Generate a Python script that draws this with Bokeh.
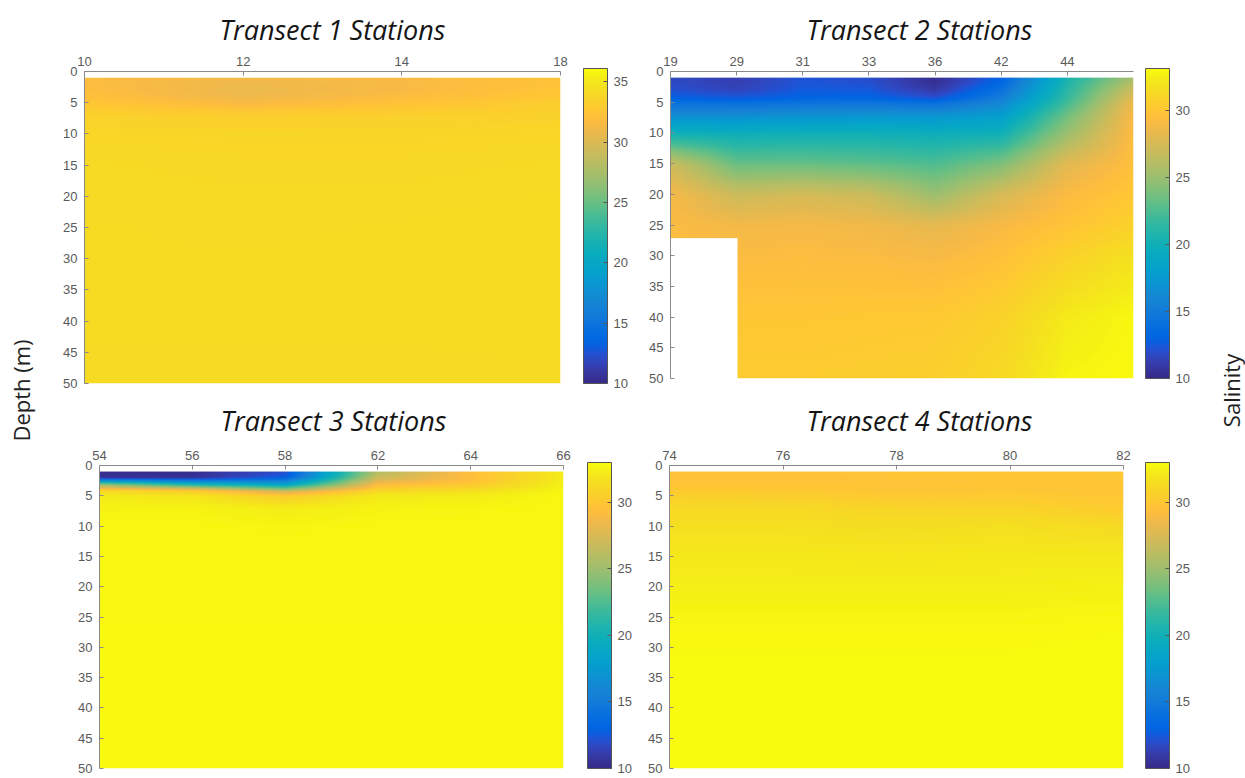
import numpy as np
from bokeh.plotting import figure
from bokeh.models import LinearColorMapper, ColorBar, FixedTicker, Range1d, Label
from bokeh.layouts import row, column
from bokeh.embed import file_html
from bokeh.resources import INLINE

# ---------------- data (salinity) ----------------
DEPTHS = [1, 2, 3, 4, 5, 7, 10, 15, 20, 25, 30, 40, 50]
DEPTH_TICKS = [0, 5, 10, 15, 20, 25, 30, 35, 40, 45, 50]

T1_STATIONS = ["10", "12", "14", "18"]
T1_SAL = [
    [31.8, 31.2, 31.6, 32.3],
    [31.8, 30.9, 31.5, 32.3],
    [31.9, 30.8, 31.5, 32.5],
    [32.1, 31.0, 31.8, 32.7],
    [32.6, 31.6, 32.3, 33.1],
    [33.4, 33.1, 33.3, 33.5],
    [33.9, 33.8, 33.8, 33.9],
    [34.1, 34.0, 34.0, 34.1],
    [34.1, 34.1, 34.1, 34.2],
    [34.2, 34.1, 34.2, 34.3],
    [34.2, 34.2, 34.3, 34.3],
    [34.2, 34.2, 34.2, 34.3],
    [34.1, 34.1, 34.1, 34.1],
]

T2_STATIONS = ["19", "29", "31", "33", "36", "42", "44", ""]
T2_BOTTOM = [27, 50, 50, 50, 50, 50, 50, 50]
T2_SAL = [
    [11.8, 11.2, 12.3, 12.0, 10.3, 13.0, 20.5, 25.5],
    [11.9, 11.3, 12.4, 12.2, 10.5, 13.5, 20.8, 26.3],
    [12.2, 11.6, 12.6, 12.5, 11.0, 14.2, 21.2, 27.0],
    [12.8, 12.4, 13.0, 13.0, 12.0, 15.0, 21.6, 27.8],
    [14.0, 13.8, 14.2, 14.3, 13.8, 16.0, 22.0, 28.5],
    [16.5, 16.5, 16.8, 17.0, 17.0, 17.8, 23.5, 29.0],
    [20.0, 19.8, 20.0, 20.0, 19.8, 20.0, 25.0, 29.3],
    [27.0, 23.3, 23.3, 23.0, 22.5, 24.0, 28.0, 29.5],
    [28.9, 27.0, 27.4, 27.0, 25.0, 27.5, 29.2, 30.0],
    [29.2, 28.8, 28.9, 28.7, 28.2, 29.0, 29.8, 30.8],
    [29.3, 29.2, 29.3, 29.2, 29.0, 29.6, 30.8, 31.8],
    [29.5, 30.0, 30.0, 30.1, 30.2, 30.8, 32.3, 32.9],
    [29.5, 30.4, 30.4, 30.5, 30.6, 31.3, 32.8, 33.0],
]

T3_STATIONS = ["54", "56", "58", "62", "64", "66"]
T3_SAL = [
    [10.2, 10.3, 12.0, 26.0, 29.5, 32.3],
    [10.5, 10.5, 13.0, 27.0, 29.3, 32.3],
    [24.0, 20.0, 18.0, 29.0, 30.0, 32.5],
    [31.0, 30.0, 26.0, 31.0, 31.5, 32.7],
    [32.2, 32.0, 30.5, 32.2, 32.3, 32.8],
    [32.6, 32.6, 32.3, 32.6, 32.7, 32.8],
    [32.8, 32.8, 32.7, 32.8, 32.8, 32.8],
    [32.8, 32.8, 32.8, 32.8, 32.8, 32.8],
    [32.8, 32.8, 32.8, 32.8, 32.8, 32.8],
    [32.8, 32.8, 32.8, 32.8, 32.8, 32.8],
    [32.9, 32.9, 32.9, 32.9, 32.9, 32.9],
    [32.9, 32.9, 32.9, 32.9, 32.9, 32.9],
    [32.9, 32.9, 32.9, 32.9, 32.9, 32.9],
]

T4_STATIONS = ["74", "76", "78", "80", "82"]
T4_SAL = [
    [29.6, 29.6, 29.8, 29.9, 30.0],
    [29.6, 29.6, 29.7, 29.8, 29.9],
    [29.8, 29.8, 29.7, 29.8, 29.8],
    [30.1, 30.1, 29.8, 29.9, 29.8],
    [30.6, 30.5, 30.1, 30.2, 29.9],
    [31.2, 31.2, 30.9, 30.9, 30.2],
    [31.6, 31.6, 31.5, 31.6, 31.3],
    [32.1, 32.1, 32.0, 32.1, 32.1],
    [32.4, 32.4, 32.4, 32.4, 32.5],
    [32.7, 32.7, 32.7, 32.7, 32.8],
    [32.9, 32.9, 32.9, 32.9, 33.0],
    [33.0, 33.0, 33.0, 33.0, 33.0],
    [33.0, 33.0, 33.0, 33.0, 33.0],
]

CB1_TICKS = [10, 15, 20, 25, 30, 35]
CB_TICKS = [10, 15, 20, 25, 30]

# ---------------- colormap (MATLAB parula, 64 entries) ----------------
PARULA64 = [
    (0.2081, 0.1663, 0.5292), (0.2116, 0.1898, 0.5777), (0.2123, 0.2138, 0.6270), (0.2081, 0.2386, 0.6771),
    (0.1959, 0.2645, 0.7279), (0.1707, 0.2919, 0.7792), (0.1253, 0.3242, 0.8303), (0.0591, 0.3598, 0.8683),
    (0.0117, 0.3875, 0.8820), (0.0060, 0.4086, 0.8828), (0.0165, 0.4266, 0.8786), (0.0329, 0.4430, 0.8720),
    (0.0498, 0.4586, 0.8641), (0.0629, 0.4737, 0.8554), (0.0723, 0.4887, 0.8467), (0.0779, 0.5040, 0.8384),
    (0.0793, 0.5200, 0.8312), (0.0749, 0.5375, 0.8263), (0.0641, 0.5570, 0.8240), (0.0488, 0.5772, 0.8228),
    (0.0343, 0.5966, 0.8199), (0.0265, 0.6137, 0.8135), (0.0239, 0.6287, 0.8038), (0.0231, 0.6418, 0.7913),
    (0.0228, 0.6535, 0.7768), (0.0267, 0.6642, 0.7607), (0.0384, 0.6743, 0.7436), (0.0590, 0.6838, 0.7254),
    (0.0843, 0.6928, 0.7062), (0.1133, 0.7015, 0.6859), (0.1453, 0.7098, 0.6646), (0.1801, 0.7177, 0.6424),
    (0.2178, 0.7250, 0.6193), (0.2586, 0.7317, 0.5954), (0.3022, 0.7376, 0.5712), (0.3482, 0.7424, 0.5473),
    (0.3953, 0.7459, 0.5244), (0.4420, 0.7481, 0.5033), (0.4871, 0.7491, 0.4840), (0.5300, 0.7491, 0.4661),
    (0.5709, 0.7485, 0.4494), (0.6099, 0.7473, 0.4337), (0.6473, 0.7456, 0.4188), (0.6834, 0.7435, 0.4044),
    (0.7184, 0.7411, 0.3905), (0.7525, 0.7384, 0.3768), (0.7858, 0.7356, 0.3633), (0.8185, 0.7327, 0.3498),
    (0.8507, 0.7299, 0.3360), (0.8824, 0.7274, 0.3217), (0.9139, 0.7258, 0.3063), (0.9450, 0.7261, 0.2886),
    (0.9739, 0.7314, 0.2666), (0.9938, 0.7455, 0.2403), (0.9990, 0.7653, 0.2164), (0.9955, 0.7861, 0.1967),
    (0.9880, 0.8066, 0.1794), (0.9789, 0.8271, 0.1633), (0.9697, 0.8481, 0.1475), (0.9626, 0.8705, 0.1309),
    (0.9589, 0.8949, 0.1132), (0.9598, 0.9218, 0.0948), (0.9661, 0.9514, 0.0755), (0.9763, 0.9831, 0.0538),
]


def make_palette(n=256):
    arr = np.array(PARULA64)
    src = np.linspace(0, 1, len(arr))
    dst = np.linspace(0, 1, n)
    out = []
    for t in dst:
        rgb = [np.interp(t, src, arr[:, k]) for k in range(3)]
        out.append("#%02x%02x%02x" % tuple(int(round(c * 255)) for c in rgb))
    return out


PALETTE = make_palette()

TICK_FONT = "Liberation Sans"
TICK_COLOR = "#5a5a5a"
AXIS_COLOR = "#8a8a8a"


def shade(table, bottoms=None, ncols=480, nrows=320):
    """Smooth (interp-shaded) raster of a station x depth table."""
    vals = np.array(table, dtype=float)
    nst = vals.shape[1]
    xs = np.linspace(0, nst - 1, ncols)
    ds = np.linspace(DEPTHS[0], DEPTHS[-1], nrows)
    col = np.array([np.interp(ds, DEPTHS, vals[:, j]) for j in range(nst)]).T
    img = np.array([np.interp(xs, np.arange(nst), col[i]) for i in range(nrows)])
    if bottoms is not None:
        cell = np.clip(np.floor(xs).astype(int), 0, nst - 2)
        lim = np.minimum(np.array(bottoms)[cell], np.array(bottoms)[cell + 1])
        img[ds[:, None] > lim[None, :]] = np.nan
    return img


def panel(title, stations, table, cb_high, cb_ticks, frame_w, frame_h,
          b_left, b_top, b_right, b_bottom, title_left, title_standoff, cb_gap, bottoms=None):
    nst = len(table[0])
    p = figure(frame_width=frame_w, frame_height=frame_h,
               x_range=Range1d(0, nst - 1), y_range=Range1d(50, 0),
               x_axis_location="above", toolbar_location=None, output_backend="svg",
               min_border_left=b_left, min_border_top=b_top,
               min_border_right=b_right, min_border_bottom=b_bottom,
               outline_line_color=None, background_fill_color="white",
               border_fill_color="white")
    p.grid.visible = False

    mapper = LinearColorMapper(palette=PALETTE, low=10, high=cb_high, nan_color="white")
    img = shade(table, bottoms)
    p.image(image=[img], x=0, y=DEPTHS[0], dw=nst - 1, dh=DEPTHS[-1] - DEPTHS[0],
            color_mapper=mapper)

    labelled = [i for i, s in enumerate(stations) if s]
    p.xaxis.ticker = FixedTicker(ticks=labelled)
    p.xaxis.major_label_overrides = {i: stations[i] for i in labelled}
    p.yaxis.ticker = FixedTicker(ticks=DEPTH_TICKS)
    for ax in (p.xaxis, p.yaxis):
        ax.axis_line_color = AXIS_COLOR
        ax.major_tick_line_color = AXIS_COLOR
        ax.minor_tick_line_color = None
        ax.major_tick_in = 4
        ax.major_tick_out = 0
        ax.major_label_text_font = TICK_FONT
        ax.major_label_text_font_size = "13px"
        ax.major_label_text_color = TICK_COLOR
    p.xaxis.major_label_standoff = 6
    p.yaxis.major_label_standoff = 7

    p.title.text = title
    p.title.align = "left"
    p.title.offset = title_left
    p.title.text_font = "Open Sans"
    p.title.text_font_style = "italic"
    p.title.text_font_size = "27px"
    p.title.text_color = "#151515"
    p.title.standoff = title_standoff

    cb = ColorBar(color_mapper=mapper, ticker=FixedTicker(ticks=cb_ticks),
                  width=24, height=frame_h + 3, location=(frame_w + cb_gap, 0),
                  margin=0, padding=0,
                  major_label_text_font=TICK_FONT, major_label_text_font_size="13px",
                  major_label_text_color=TICK_COLOR, label_standoff=6,
                  bar_line_color="#555555", major_tick_line_color="#555555",
                  major_tick_in=4, major_tick_out=0, minor_tick_line_color=None,
                  border_line_color=None, background_fill_color=None)
    p.add_layout(cb)
    return p


# top row: 390 px tall, bottom row: 388 px tall
p1 = panel("Transect 1 Stations", T1_STATIONS, T1_SAL, 36.1, CB1_TICKS,
           476, 312, 42, 71, 80, 7, 135, 11, 23)
p2 = panel("Transect 2 Stations", T2_STATIONS, T2_SAL, 33.1, CB_TICKS,
           463, 307, 30, 71, 72, 12, 136, 11, 12, bottoms=T2_BOTTOM)
p3 = panel("Transect 3 Stations", T3_STATIONS, T3_SAL, 33.0, CB_TICKS,
           464, 303, 57, 75, 77, 10, 121, 17, 24)
p4 = panel("Transect 4 Stations", T4_STATIONS, T4_SAL, 33.0, CB_TICKS,
           454, 303, 29, 75, 82, 10, 137, 17, 22)


def side_label(text, width, x):
    f = figure(width=width, height=778, x_range=Range1d(0, width), y_range=Range1d(0, 778),
               x_axis_location=None, y_axis_location=None, toolbar_location=None,
               output_backend="svg", min_border=0, outline_line_color=None)
    f.grid.visible = False
    f.add_layout(Label(x=x, y=778 - 390, text=text, angle=np.pi / 2,
                       text_align="center", text_baseline="middle",
                       text_font="Open Sans", text_font_size="22px", text_color="#222222"))
    return f


left = side_label("Depth (m)", 42, 20)
right = side_label("Salinity", 40, 25)

layout = row(left, column(row(p1, p2), row(p3, p4)), right)

with open("out.html", "w") as fh:
    fh.write(file_html(layout, INLINE))
